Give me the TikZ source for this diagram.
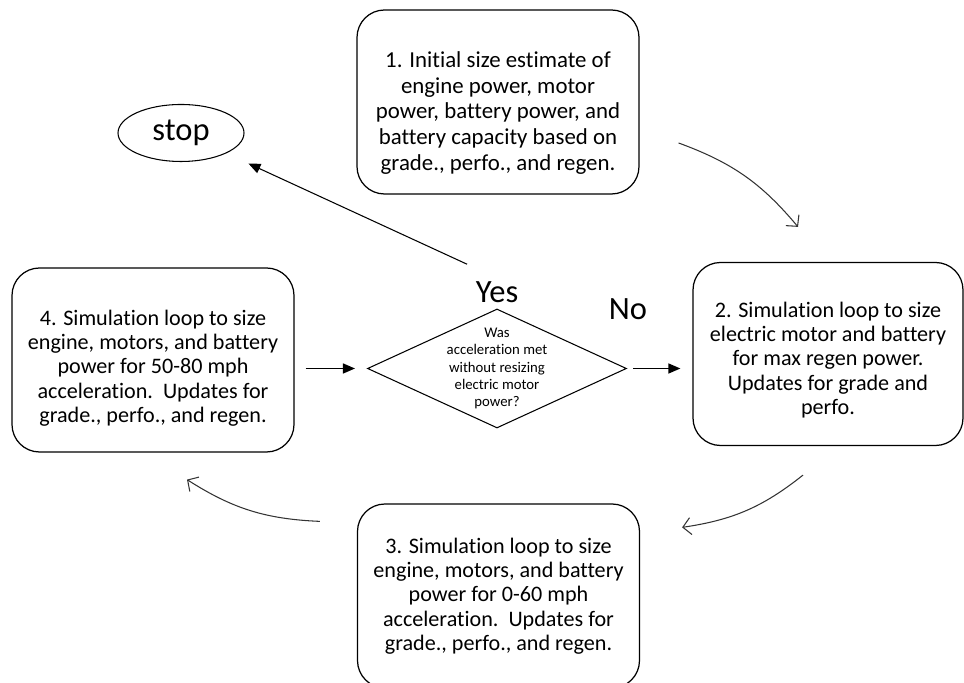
\documentclass[tikz,border=0pt]{standalone}
\usepackage{fontspec}
\setmainfont{Carlito}[Ligatures=NoCommon]
\usetikzlibrary{arrows.meta,shapes.geometric,calc}

\begin{document}
\begin{tikzpicture}
	\tikzset{
		stepbox/.style={draw, rounded corners=0.55cm, line width=0.7pt, inner sep=0pt},
		steptext/.style={align=center, font=\fontsize{12.6}{13.8}\selectfont, inner sep=0pt},
		tri/.style={-{Triangle[length=2.4mm, width=2mm]}, line width=0.8pt},
		loop/.style={-{Straight Barb[length=1.6mm, width=3.4mm]}, line width=0.6pt, black!80}
	}
	\useasboundingbox (0,0) rectangle (19.28,13.66);

	% the four steps
	\node[stepbox, minimum width=5.64cm, minimum height=3.68cm] (one) at (9.96,11.62) {};
	\node[steptext, font=\fontsize{13}{14.6}\selectfont] (onetext) at ([yshift=-0.22cm]one.center)
		{1. Initial size estimate of\\ engine power, motor\\ power, battery power, and\\ battery capacity based on\\ grade., perfo., and regen.};
	\node[stepbox, minimum width=5.40cm, minimum height=3.66cm] (two) at (16.56,6.58) {};
	\node[steptext] (twotext) at ([yshift=-0.12cm]two.center)
		{2. Simulation loop to size\\ electric motor and battery\\ for max regen power.\\ Updates for grade and\\ perfo.};
	\node[stepbox, minimum width=5.64cm, minimum height=3.68cm] (three) at (9.97,1.74) {};
	\node[steptext] (threetext) at (three.center)
		{3. Simulation loop to size\\ engine, motors, and battery\\ power for 0-60 mph\\ acceleration.\ \ Updates for\\ grade., perfo., and regen.};
	\node[stepbox, minimum width=5.64cm, minimum height=3.68cm] (four) at (3.06,6.46) {};
	\node[steptext] (fourtext) at ([yshift=-0.16cm]four.center)
		{4. Simulation loop to size\\ engine, motors, and battery\\ power for 50-80 mph\\ acceleration.\ \ Updates for\\ grade., perfo., and regen.};

	% decision and stop
	\node[draw, diamond, line width=0.6pt, inner sep=0pt, minimum width=5.18cm, minimum height=2.38cm] (check) at (9.94,6.29) {};
	\node[align=center, font=\fontsize{8.4}{9.8}\selectfont] (checktext) at (check.center)
		{Was\\ acceleration met\\ without resizing\\ electric motor\\ power?};
	\node[draw, ellipse, line width=0.6pt, minimum width=2.52cm, minimum height=1.14cm,
		font=\fontsize{18.5}{21}\selectfont] (stop) at (3.62,11.0) {stop};
	\node[font=\fontsize{18.5}{21}\selectfont] (yes) at (9.94,7.82) {Yes};
	\node[font=\fontsize{18.5}{21}\selectfont] (no) at (12.56,7.48) {No};

	% straight arrows
	\draw[tri, shorten <=0.22cm, shorten >=0.24cm] (check.west -| four.east) -- (check.west);
	\draw[tri, shorten <=0.12cm, shorten >=0.24cm] (check.east) -- (check.east -| two.west);
	\draw[tri, line width=0.6pt] ([shift={(-0.05,0.22)}]yes.north west) -- ([shift={(0.45,-0.2)}]stop.south east);

	% loop arrows
	\draw[loop] ([shift={(0.78,-0.82)}]one.east) to[bend left=15] ([shift={(-0.6,0.7)}]two.north);
	\draw[loop] ([shift={(-0.5,-0.58)}]two.south) to[bend left=15] ([shift={(0.84,-0.48)}]three.north east);
	\draw[loop] ([shift={(-0.74,-0.36)}]three.north west) to[bend left=15] ([shift={(0.68,-0.54)}]four.south);
\end{tikzpicture}
\end{document}
